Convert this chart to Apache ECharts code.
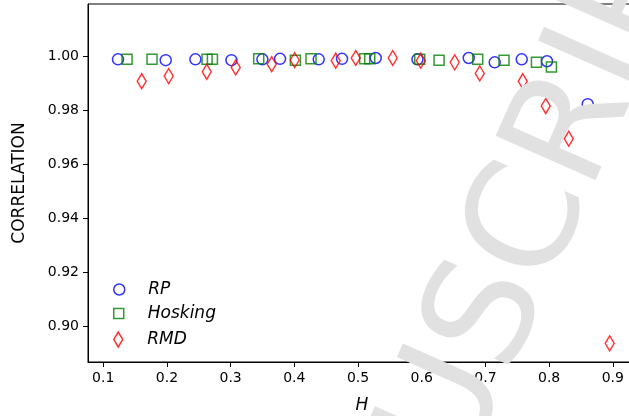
<!DOCTYPE html>
<html>
<head>
  <meta charset="utf-8">
  <title>Correlation vs H</title>
  <script src="https://cdn.jsdelivr.net/npm/echarts@6/dist/echarts.min.js"></script>
  <style>
    html, body { margin: 0; padding: 0; background: #fff; }
  </style>
</head>
<body>
  <div id="main" style="width: 629px;height:416px;"></div>
  <script type="text/javascript">
    // values
    var rpH = [0.1232, 0.1981, 0.2447, 0.3013, 0.3499, 0.3776, 0.4383, 0.4749, 0.5278, 0.5933, 0.6738, 0.7146, 0.7570, 0.7967, 0.8606];
    var rpCorr = [0.9988, 0.9985, 0.9988, 0.9985, 0.9988, 0.9990, 0.9988, 0.9990, 0.9993, 0.9988, 0.9993, 0.9977, 0.9988, 0.9981, 0.9822];

    var hoskingH = [0.1374, 0.1766, 0.2630, 0.2714, 0.3441, 0.4017, 0.4262, 0.5105, 0.5184, 0.5969, 0.6272, 0.6879, 0.7292, 0.7801, 0.8036];
    var hoskingCorr = [0.9988, 0.9988, 0.9988, 0.9988, 0.9990, 0.9985, 0.9990, 0.9990, 0.9990, 0.9988, 0.9985, 0.9988, 0.9985, 0.9977, 0.9960];

    var rmdH = [0.1604, 0.2028, 0.2625, 0.3080, 0.3645, 0.4006, 0.4650, 0.4964, 0.5545, 0.5985, 0.6518, 0.6911, 0.7586, 0.7947, 0.8308, 0.8951];
    var rmdCorr = [0.9907, 0.9926, 0.9942, 0.9958, 0.9970, 0.9985, 0.9983, 0.9993, 0.9993, 0.9983, 0.9977, 0.9936, 0.9907, 0.9815, 0.9694, 0.8936];

    var xTicks = [0.1, 0.2, 0.3, 0.4, 0.5, 0.6, 0.7, 0.8, 0.9];
    var yTicks = [0.90, 0.92, 0.94, 0.96, 0.98, 1.00];

    function pairs(xs, ys) {
      return xs.map(function (x, i) { return [x, ys[i]]; });
    }

    var squarePath = 'path://M0,0L10,0L10,10L0,10Z';
    var diamondPath = 'path://M4.5,0L9,7.5L4.5,15L0,7.5Z';

    var myChart = echarts.init(document.getElementById('main'));

    function legendFor(name, icon, top, h, col) {
      return {
        data: [{ name: name, icon: icon }],
        left: 113, top: top, padding: 0,
        itemWidth: 48, itemHeight: h,
        itemStyle: { color: 'transparent', borderColor: col, borderWidth: 1.5 },
        textStyle: { fontFamily: 'DejaVu Sans', fontStyle: 'italic', fontSize: 17, color: '#000' },
        selectedMode: false
      };
    }

    var option = {
      animation: false,
      textStyle: { fontFamily: 'DejaVu Sans' },
      grid: {
        left: 88, top: 4, width: 614, height: 358,
        outerBoundsMode: 'none', containLabel: false,
        show: true, borderColor: '#000', borderWidth: 1, backgroundColor: 'transparent'
      },
      legend: [
        legendFor('RP', 'circle', 281, 11, '#0000ff'),
        legendFor('Hosking', squarePath, 305, 10, '#008000'),
        legendFor('RMD', diamondPath, 331, 15, '#ff0000')
      ],
      xAxis: {
        type: 'value',
        min: 0.0761, max: 1.04,
        name: 'H', nameLocation: 'middle', nameGap: 35,
        // the axis runs past the right edge, so pull the name back to the visible middle
        nameTextStyle: {
          fontFamily: 'DejaVu Sans', fontStyle: 'italic', fontSize: 17, color: '#000',
          padding: [0, 66, 0, 0]
        },
        axisLine: { lineStyle: { color: '#000', width: 1 } },
        axisTick: { customValues: xTicks, length: 5, lineStyle: { color: '#000' } },
        axisLabel: {
          customValues: xTicks, color: '#000', fontSize: 14, margin: 9,
          formatter: function (v) { return v.toFixed(1); }
        },
        splitLine: { show: false }
      },
      yAxis: {
        type: 'value',
        min: 0.8867, max: 1.0193,
        name: 'CORRELATION', nameLocation: 'middle', nameGap: 60,
        nameTextStyle: { fontFamily: 'DejaVu Sans', fontSize: 17, color: '#000' },
        axisLine: { lineStyle: { color: '#000', width: 1 } },
        axisTick: { customValues: yTicks, length: 5, lineStyle: { color: '#000' } },
        axisLabel: {
          customValues: yTicks, color: '#000', fontSize: 14, margin: 9,
          formatter: function (v) { return v.toFixed(2); }
        },
        splitLine: { show: false }
      },
      series: [
        {
          name: 'RP', type: 'scatter', symbol: 'circle', symbolSize: 11,
          itemStyle: { color: 'transparent', borderColor: '#0000ff', borderWidth: 1.5 },
          data: pairs(rpH, rpCorr)
        },
        {
          name: 'Hosking', type: 'scatter', symbol: 'rect', symbolSize: 10,
          itemStyle: { color: 'transparent', borderColor: '#008000', borderWidth: 1.5 },
          data: pairs(hoskingH, hoskingCorr)
        },
        {
          name: 'RMD', type: 'scatter', symbol: 'diamond', symbolSize: [9, 15],
          itemStyle: { color: 'transparent', borderColor: '#ff0000', borderWidth: 1.5 },
          data: pairs(rmdH, rmdCorr)
        }
      ],
      graphic: [
        {
          type: 'text', z: 100, zlevel: 1,
          x: 288, y: 775, rotation: 66 * Math.PI / 180,
          style: {
            text: 'MANUSCRIPT', fontFamily: 'DejaVu Sans', fontSize: 150,
            fill: '#e1e1e1', align: 'left', verticalAlign: 'middle'
          }
        }
      ]
    };

    myChart.setOption(option);
  </script>
</body>
</html>
